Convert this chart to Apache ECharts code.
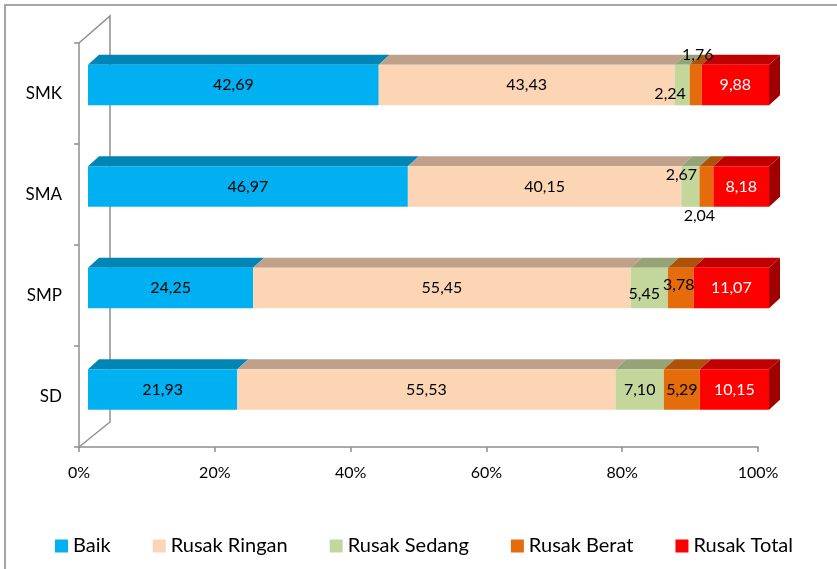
<!DOCTYPE html>
<html>
<head>
<meta charset="utf-8">
<title>Kondisi Ruang Kelas</title>
<script src="https://cdn.jsdelivr.net/npm/echarts@6/dist/echarts.min.js"></script>
<style>
  html, body { margin: 0; padding: 0; background: #fff; }
  #chart { width: 837px; height: 569px; }
</style>
</head>
<body>
<div id="chart"></div>
<script>
// data
var categories = ['SD', 'SMP', 'SMA', 'SMK'];
var seriesNames = ['Baik', 'Rusak Ringan', 'Rusak Sedang', 'Rusak Berat', 'Rusak Total'];
var baik = [21.93, 24.25, 46.97, 42.69];
var rusakRingan = [55.53, 55.45, 40.15, 43.43];
var rusakSedang = [7.10, 5.45, 2.67, 2.24];
var rusakBerat = [5.29, 3.78, 2.04, 1.76];
var rusakTotal = [10.15, 11.07, 8.18, 9.88];
var xTicks = [0, 20, 40, 60, 80, 100];

var values = [baik, rusakRingan, rusakSedang, rusakBerat, rusakTotal];

// warna: depan, atas
var frontColors = ['#00B0F0', '#FCD5B5', '#C3D69B', '#E46C0A', '#FF0000'];
var topColors = ['#0085B5', '#BFA18B', '#95A377', '#AD5209', '#C00000'];
var sideColor = '#A00000';

// geser label yang kecil supaya tidak bertumpuk
var labelNudge = {
    'Rusak Sedang|SMK': [-12, 9],
    'Rusak Berat|SMK': [2, -30],
    'Rusak Sedang|SMA': [-9, -11.5],
    'Rusak Berat|SMA': [-7, 29.5],
    'Rusak Sedang|SMP': [-5, 6],
    'Rusak Berat|SMP': [-2, -3]
};

var FONT = 'Lato, "Open Sans", sans-serif';
var DX = 11, DY = 10;

var fmt = function (v) {
    return v.toFixed(2).replace('.', ',');
};

// kumulatif per kategori
var cum = categories.map(function () { return 0; });
var seriesList = values.map(function (arr, s) {
    var data = arr.map(function (v, i) {
        var start = cum[i];
        cum[i] += v;
        return [start, cum[i], i, v];
    });
    return {
        name: seriesNames[s],
        type: 'custom',
        xAxisIndex: 0,
        yAxisIndex: 0,
        itemStyle: { color: frontColors[s] },
        encode: { x: [0, 1], y: 2 },
        data: data,
        renderItem: function (params, api) {
            var p0 = api.coord([api.value(0), api.value(2)]);
            var p1 = api.coord([api.value(1), api.value(2)]);
            var h = api.size([0, 1])[1] * 0.4;
            var l = p0[0], r = p1[0], yt = p0[1] - h / 2, yb = p0[1] + h / 2;
            var children = [
                {
                    type: 'polygon',
                    shape: { points: [[l, yt], [l + DX, yt - DY], [r + DX, yt - DY], [r, yt]] },
                    style: { fill: topColors[s] }
                },
                {
                    type: 'rect',
                    shape: { x: l, y: yt, width: r - l, height: h },
                    style: { fill: frontColors[s] }
                }
            ];
            if (s === values.length - 1) {
                children.push({
                    type: 'polygon',
                    shape: { points: [[r, yt], [r + DX, yt - DY], [r + DX, yb - DY], [r, yb]] },
                    style: { fill: sideColor }
                });
            }
            var key = seriesNames[s] + '|' + categories[api.value(2)];
            var nd = labelNudge[key] || [0, 0];
            children.push({
                type: 'text',
                z2: 10,
                style: {
                    text: fmt(api.value(3)),
                    x: (l + r) / 2 + nd[0],
                    y: p0[1] + nd[1],
                    align: 'center',
                    verticalAlign: 'middle',
                    fill: s === values.length - 1 ? '#fff' : '#000',
                    fontSize: 16,
                    fontFamily: FONT
                }
            });
            return { type: 'group', children: children };
        }
    };
});

var box = document.getElementById('chart');
var myChart = echarts.init(box);

var axisGray = '#8F8F8F';

var option = {
    animation: false,
    textStyle: { fontFamily: FONT },
    legend: {
        left: 50,
        top: 531,
        itemWidth: 13,
        itemHeight: 13,
        itemGap: 42,
        icon: 'rect',
        data: seriesNames,
        textStyle: { fontSize: 20, color: '#000', fontFamily: FONT }
    },
    grid: [
        // bidang depan batang
        { left: 88, width: 681, top: 34.25, height: 406 },
        // bidang sumbu
        { left: 79, width: 679, top: 43, height: 404 }
    ],
    xAxis: [
        { gridIndex: 0, type: 'value', min: 0, max: 100, show: false },
        {
            gridIndex: 1, type: 'value', min: 0, max: 100, interval: 20,
            axisLine: { show: true, lineStyle: { color: axisGray, width: 1.5 } },
            axisTick: { show: true, length: 5, lineStyle: { color: axisGray, width: 1.5 } },
            splitLine: { show: false },
            axisLabel: {
                margin: 18, fontSize: 16, color: '#000', fontFamily: FONT,
                formatter: function (v) { return xTicks.indexOf(v) >= 0 ? v + '%' : ''; }
            }
        }
    ],
    yAxis: [
        { gridIndex: 0, type: 'category', data: categories, show: false },
        {
            gridIndex: 1, type: 'category', data: categories,
            axisLine: { show: true, lineStyle: { color: axisGray, width: 1.5 } },
            axisTick: { show: true, length: 5, lineStyle: { color: axisGray, width: 1.5 } },
            axisLabel: { margin: 17, fontSize: 17, color: '#000', fontFamily: FONT }
        }
    ],
    graphic: [
        // dinding belakang
        { type: 'polyline', z: 0, shape: { points: [[79, 43], [110, 16], [110, 422], [79, 447]] },
          style: { stroke: axisGray, lineWidth: 1.5, fill: null } },
        // bingkai
        { type: 'line', shape: { x1: 4, y1: 5, x2: 837, y2: 5 }, style: { stroke: '#A6A6A6', lineWidth: 2 } },
        { type: 'line', shape: { x1: 5, y1: 4, x2: 5, y2: 569 }, style: { stroke: '#A6A6A6', lineWidth: 2 } }
    ],
    series: seriesList
};

myChart.setOption(option);
</script>
</body>
</html>
